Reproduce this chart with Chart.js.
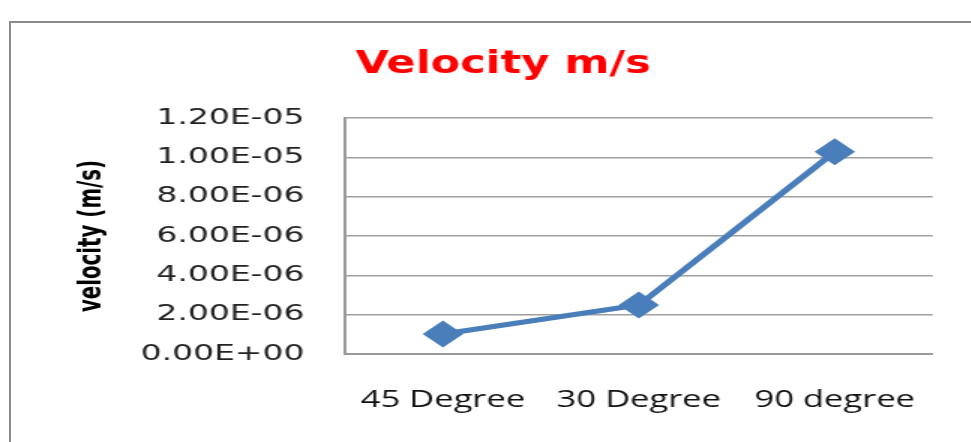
<!DOCTYPE html>
<html>
<head>
<meta charset="utf-8">
<script src="https://cdn.jsdelivr.net/npm/chart.js"></script>
<style>
  html, body { margin: 0; padding: 0; background: #fff; overflow: hidden; }
  #frame { position: absolute; left: 9px; top: 21px; width: 980px; height: 440px;
           border-left: 2px solid #8a8a8a; border-top: 2px solid #8a8a8a; }
  /* a figura original esta esticada na horizontal */
  canvas { position: absolute; left: 0; top: 0; transform: scale(1.5, 1); transform-origin: 0 0; }
</style>
</head>
<body>
<div id="frame"></div>
<canvas id="myChart" width="647" height="442"></canvas>
<script>
// valores
const categorias = ['45 Degree', '30 Degree', '90 degree'];
const velocidade = [1.02e-6, 2.49e-6, 1.028e-5];
const yTickLabels = ['0.00E+00', '2.00E-06', '4.00E-06', '6.00E-06', '8.00E-06', '1.00E-05', '1.20E-05'];

const ctx = document.getElementById('myChart').getContext('2d');
const azul = '#4a7ebb';
const fonteTitulo = "'Liberation Sans Narrow', 'DejaVu Sans Condensed', 'Roboto Condensed', 'Liberation Sans', sans-serif";

const grafico = new Chart(ctx, {
    type: 'line',
    data: {
        labels: categorias,
        datasets: [{
            label: 'velocity',
            data: velocidade,
            borderColor: azul,
            backgroundColor: azul,
            borderWidth: 5,
            pointStyle: 'rectRot',
            pointRadius: 10,
            pointHoverRadius: 10,
            tension: 0
        }]
    },
    options: {
        responsive: false,
        animation: false,
        devicePixelRatio: 1,
        layout: { padding: { left: 48, right: 24, top: 0, bottom: 10 } },
        plugins: {
            legend: { display: false },
            tooltip: { enabled: false },
            title: {
                display: true,
                text: 'Velocity m/s',
                color: '#ff0000',
                font: { family: fonteTitulo, size: 32, weight: 'bold' },
                padding: { top: 45, bottom: 34.6 }
            }
        },
        scales: {
            x: {
                offset: true,
                grid: { display: false, drawTicks: false },
                border: { color: '#999', width: 2 },
                ticks: {
                    padding: 33,
                    color: '#111',
                    font: { family: "'Open Sans', 'DejaVu Sans', sans-serif", size: 23 }
                },
                afterFit: (scale) => { scale.height = 78; }
            },
            y: {
                min: 0,
                max: 1.2e-5,
                grid: { color: '#a0a0a0', lineWidth: 1.5, drawTicks: false },
                border: { color: '#999', width: 2 },
                ticks: {
                    stepSize: 2e-6,
                    padding: 27,
                    color: '#222',
                    font: { family: "'DejaVu Sans', sans-serif", size: 22 },
                    callback: (valor, i) => yTickLabels[i]
                },
                title: {
                    display: true,
                    text: 'velocity (m/s)',
                    color: '#000',
                    font: { family: fonteTitulo, size: 22, weight: 'bold' },
                    padding: 0
                },
                afterFit: (scale) => { scale.width = 182; }
            }
        }
    }
});
</script>
</body>
</html>
